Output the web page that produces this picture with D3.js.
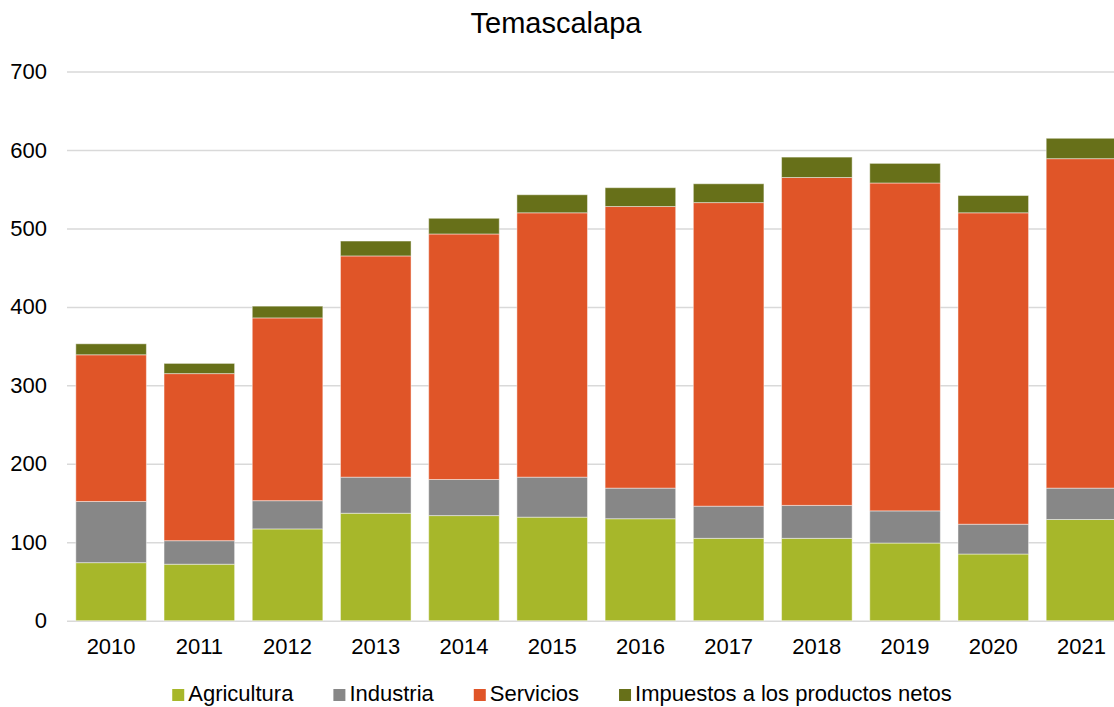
<!DOCTYPE html>
<html>
<head>
<meta charset="utf-8">
<script src="https://cdn.jsdelivr.net/npm/d3@7"></script>
<style>
  body { margin: 0; background: #fff; }
  svg { display: block; font-family: 'Liberation Sans', Arial, sans-serif; }
</style>
</head>
<body>
<svg width="1114" height="707"></svg>
<script>
let years = ['2010', '2011', '2012', '2013', '2014', '2015', '2016', '2017', '2018', '2019', '2020', '2021']
let agricultura = [74, 72, 117, 137, 134, 132, 130, 105, 105, 99, 85, 129]
let industria = [78, 30, 36, 46, 46, 51, 39, 41, 42, 41, 38, 40]
let servicios = [187, 213, 233, 282, 313, 337, 359, 387, 418, 418, 397, 420]
let impuestos = [14, 13, 15, 19, 20, 23, 24, 24, 26, 25, 22, 26]
let series = ['Agricultura', 'Industria', 'Servicios', 'Impuestos a los productos netos']
let colors = ['#a7b72a', '#878787', '#e05528', '#677019']
let yTicks = [0, 100, 200, 300, 400, 500, 600, 700]

// build rows for d3.stack
let rows = years.map((y, i) => ({
  year: y,
  'Agricultura': agricultura[i],
  'Industria': industria[i],
  'Servicios': servicios[i],
  'Impuestos a los productos netos': impuestos[i]
}))
let stacked = d3.stack().keys(series)(rows)

let margin = { top: 71.6, bottom: 86.3, left: 67 }
let height = 707

let x = d3.scaleBand()
  .domain(years)
  .range([margin.left, 1125.6])
  .paddingInner(0.2)
  .paddingOuter(0.1)

let y = d3.scaleLinear()
  .domain([0, 700])
  .range([height - margin.bottom, margin.top])

const svg = d3.select('svg')

// title
svg.append('text')
  .attr('x', 556)
  .attr('y', 33)
  .attr('text-anchor', 'middle')
  .style('font-size', '29px')
  .attr('fill', '#000')
  .text('Temascalapa')

// gridlines + y labels
let yAxis = g => g
  .attr('transform', `translate(${margin.left},0)`)
  .call(d3.axisLeft(y).tickValues(yTicks).tickSize(-1070).tickPadding(20))
  .call(g => g.select('.domain').remove())
  .call(g => g.selectAll('.tick line').attr('stroke', '#d9d9d9').attr('stroke-width', 1.5))
  .call(g => g.selectAll('.tick text')
    .style('font-size', '22px')
    .style('font-family', "'Liberation Sans', Arial, sans-serif")
    .attr('fill', '#000'))
svg.append('g').call(yAxis)

// bars
svg.append('g')
  .selectAll('g')
  .data(stacked)
  .enter()
  .append('g')
  .attr('fill', (d, i) => colors[i])
  .selectAll('rect')
  .data(d => d)
  .enter()
  .append('rect')
  .attr('x', d => x(d.data.year))
  .attr('y', d => y(d[1]))
  .attr('height', d => y(d[0]) - y(d[1]))
  .attr('width', x.bandwidth())
  .attr('stroke', 'rgba(255,255,255,0.45)')
  .attr('stroke-width', 1)

// x axis labels
let xAxis = g => g
  .attr('transform', `translate(0,${y(0)})`)
  .call(d3.axisBottom(x).tickSize(0).tickPadding(18))
  .call(g => g.select('.domain').remove())
  .call(g => g.selectAll('.tick text')
    .style('font-size', '22px')
    .style('font-family', "'Liberation Sans', Arial, sans-serif")
    .attr('fill', '#000'))
svg.append('g').call(xAxis)

// legend
let legend = svg.append('g')
let lx = 0
let gap = 40
series.forEach((s, i) => {
  let item = legend.append('g').attr('transform', `translate(${lx},0)`)
  item.append('rect')
    .attr('x', 0).attr('y', 689)
    .attr('width', 12).attr('height', 12)
    .attr('fill', colors[i])
  let t = item.append('text')
    .attr('x', 16).attr('y', 701)
    .style('font-size', '22px')
    .attr('fill', '#000')
    .text(s)
  lx += 16 + t.node().getComputedTextLength() + gap
})
let legendWidth = lx - gap
legend.attr('transform', `translate(${562 - legendWidth / 2},0)`)
</script>
</body>
</html>
